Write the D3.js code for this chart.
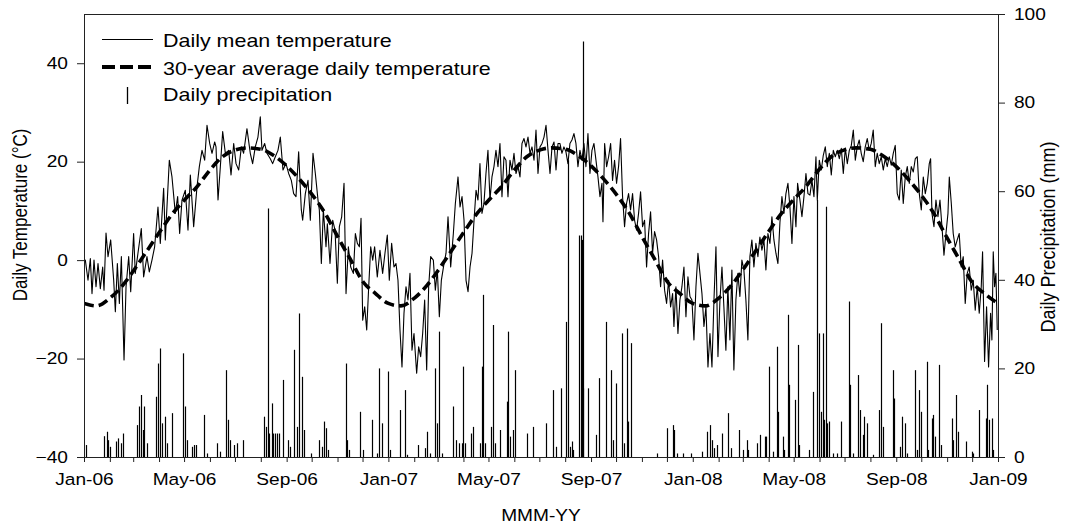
<!DOCTYPE html>
<html><head><meta charset="utf-8">
<script src="https://cdn.jsdelivr.net/npm/d3@7"></script>
<style>
body{margin:0;background:#fff;}
svg text{font-family:"Liberation Sans",Arial,sans-serif;fill:#000;}
</style>
</head><body>
<svg id="c" width="1068" height="529"></svg>
<script>
// ---------- DATA ----------
// day offsets are counted from 2006-01-01
const tempDay = [0,1.6,4.8,7.6,9.6,12,14.4,16.8,19.6,22.4,24,26.4,28.8,32,35.6,37.6,40,42.4,44.8,48,50.4,53.6,56,59.5,61.5,64.7,68.7,71.5,75.5,78.3,81.5,84.7,88.7,91.5,95.5,97.5,102.3,105.5,109.5,112.3,114.7,117.5,121.5,124.7,127.5,131.5,135.5,138.3,141.5,144.7,147.5,150.7,153.5,156.7,158.3,160.7,163.5,166.3,169.5,173.5,176.3,179.5,182.3,185.5,188.7,191.4,195.4,199.4,202.2,205.4,208.6,211.4,213.4,216.6,219.4,223.4,226.2,229.4,232.6,235.4,238.6,242.2,245.4,248.6,251.4,254.2,257.4,260.6,262.2,265.4,268.6,271.4,274.6,277.4,280.6,282.2,284.6,
287,290.2,291.8,295,298.2,301,303.8,306.2,309,311.8,314.2,317,319.8,323,325.4,327.8,330.2,332.2,334.2,336.6,339,341.4,343.8,346.2,348.5,351.7,354.9,358.1,360.9,363.7,366.1,368.9,371.7,374.1,376.5,378.9,381.3,383.7,386.1,388.5,390.9,393.3,395.7,398.9,401.3,403.7,406.1,408.5,410.9,413.3,415.7,418.9,421.3,423.7,426.1,428.5,431.7,434.1,436.5,439.7,442.9,445.3,448.5,450.9,453.3,455.7,458.1,460.5,462.9,465.3,467.7,470.1,472.4,474.8,477.2,479.6,482,484.4,486.8,489.2,491.6,494,496.4,498.8,501.2,503.6,506,508.4,510.8,513.2,515.6,518,520.4,522.8,525.2,527.6,530,532.4,534.8,537.2,539.6,542,544.4,546.8,549.2,551.6,554,556.4,558.8,561.2,563.6,566,568.4,
570.7,573.1,575.5,577.9,580.3,582.7,585.1,587.5,589.9,592.3,594.7,597.1,599.5,601.9,604.3,606.7,609.1,611.5,613.9,616.3,618.7,621.1,622.3,624.3,626.7,629.1,631.5,633.8,636.2,638.6,641,643.4,645.8,648.2,650.6,653,655.4,657.8,660.2,662.6,665,667.4,669.8,672.2,674.6,677,679.4,681.8,684.2,686.6,689,691.4,693.8,696.2,698.6,701,703.4,705.8,707.4,709.8,712.2,714.6,717,719.4,721.8,724.2,726.6,729,731.4,733.8,736.2,738.6,741,743.4,745.8,748.2,750.6,753,755.4,757.8,760.2,762.6,765,767.3,769.7,772.1,774.5,776.9,779.3,781.7,784.1,786.5,788.9,791.3,793.7,796.1,798.5,800.9,803.3,805.7,808.1,810.5,812.9,815.3,817.7,820.1,822.5,824.9,827.3,829.7,832.1,834.5,836.9,839.3,841.7,844.1,846.5,848.9,851.3,
853.7,855.7,858.5,860.9,863.3,865.7,868.1,870.5,872.9,875.3,877.7,879.3,881.7,884.1,886.5,888.9,891.3,893.7,896.1,898.5,900.9,903.3,905.7,908.1,910.5,912.9,915.3,917.7,920.1,922.5,924.9,927.2,929.6,932,934.4,936.8,939.2,941.6,944,946.4,948.8,951.2,953.6,956,958.4,960.8,963.2,965.6,968,970.4,972.8,975.2,977.6,980,982.4,984.8,987.2,989.6,992,994.4,996.8,999.2,1001.6,1004,1006.4,1008.8,1011.2,1013.6,1015.2,1016.8,1019.2,1021.6,1024,1026.4,1028.8,1031.2,1033.6,1036,1037.6,1040,1042.3,1044.7,1047.1,1049.5,1051.9,1054.3,1056.7,1059.1,1061.5,1063.9,1066.3,1068.7,1071.1,1073.5,1075.9,1077.5,1079.9,1082.3,1084.7,1087.1,1088.7,1090.3,1091.9,1093.5,1095.1];
const tempVal = [0,0,-4.1,0.3,-6.8,0,-5.4,-0.7,-5.8,-1.4,-6.1,5.5,0.7,4.1,-4.1,-10.5,-0.7,-8.8,0.7,-20.3,-5.4,0.7,-6.4,5.4,-2.7,1.4,6.4,-3.4,0.7,-2.4,0,2.7,10.8,3.4,14.6,4.1,20.3,16.9,9.5,12.9,5.4,12.2,14.2,6.1,17.3,6.8,14.9,19,22.3,20.3,27.4,23.7,21.7,24,23,12.2,19,26.1,21.7,22.3,17.3,23.7,19.6,18.3,23,21.7,26.7,21.7,19.6,23,25,29.1,22.3,23.7,21.7,20.6,19.6,21,22.3,25,18.3,19.6,17.6,16.2,13.5,12.9,22,10.2,8.1,13.5,16.2,8.1,21.7,17.6,12.2,10.2,-0.7,
10.2,2.7,7.4,-0.7,8.1,6.1,-4.7,6.8,8.8,15.6,-6.8,2.7,-1.4,-2.7,5.4,3.4,2.7,8.5,-12.2,-9.5,-14.2,-5.4,2.7,0,2.7,-3.4,2,-2.7,1.4,5.1,-4.1,3.4,-1.4,-0.7,-4.1,-14.2,-21.7,-10.8,-5.4,-8.1,-2.7,-18.3,-14.9,-23,-17.6,-19.6,-14.9,-8.1,-22.3,-5.4,0.7,0,-6.1,-2,-11.5,-4.1,-0.7,1.4,8.8,-1.4,5.4,11.5,16.9,10.8,12.9,8.1,-4.1,-6.4,-1.4,1.4,8.1,14.2,12.2,19.6,9.5,11.5,17.6,22.3,12.2,16.9,19,22.3,19,23.7,12.9,21,20.3,12.9,20.3,18.3,21.7,17.6,19,16.9,23.7,24.7,23,25,21.7,23,20.3,26.4,17.6,23,23.7,25,27.4,22.3,17.6,23,24,18.3,23.7,
23.7,21.7,23,22,19.6,23.7,24.4,25.7,23.7,19,22.3,20.3,23.7,19,25.7,17.6,22.3,23.7,20.3,16.9,12.9,15.6,7.8,23.7,19,21,23.7,16.2,20.3,15.6,19,24.7,12.9,6.8,11.5,13.5,10.2,13.5,8.1,6.1,9.5,13.9,6.8,8.1,-1.4,5.4,9.8,1.4,5.8,4.1,0.7,-5.4,0,-6.1,-8.8,-4.1,-9.5,-6.8,-13.5,-5.4,-14.9,-8.1,-5.4,-1.4,-11.5,-3.4,-7.4,-8.1,-16.2,-5.4,1.4,-2.7,-6.8,-13.5,-9.5,-21.7,-14.9,-21.7,-8.1,2.7,-19.6,-8.1,-1.4,-9.5,-18.3,-5.4,-16.2,-2,-22.3,-8.1,-2.7,-7.4,0,-2,-8.1,-16.2,0.7,4.1,-1.4,3.4,0.7,4.7,2,4.1,-2,5.4,3.4,8.8,4.1,1.4,-0.7,7.6,12.9,9.5,13.5,15.6,10.8,3.4,12.9,
6.8,15.6,12.2,8.8,12.9,17.6,13.5,13.2,16.2,12.9,21,12.2,20.3,18.3,21.3,23,19,21.7,17.3,22.3,21,22.3,20.6,22.7,17.6,22.7,19.6,22.3,23.3,26.4,20.3,23,24.4,21.7,20,23,24.7,22.3,23.7,26.4,19,21.7,19.6,21,18.3,20.6,19,21,19.3,21.7,23.3,13.5,12.2,18.3,11.5,16.9,19,15.6,19,17.9,20.6,21,13.5,10.2,16.9,13.5,15.6,19.6,20.6,9.5,6.8,12.2,8.8,12.2,6.8,1,5.4,9.5,16.9,11.5,5.4,2.7,4.1,5.4,-1.4,0.7,-8.8,-2.7,-1.4,-6.1,-4.1,-10.2,-5.4,-10.8,-5.4,1.7,-20.6,-9.5,-21.7,-10.8,-16.2,1.7,-5.4,-2.7,-14.2];

// 30-year average daily temperature, by day of year (same climatology each year)
const normDoy = [0,15,32,46,60,74,91,105,121,135,152,166,182,196,213,227,244,258,274,288,305,319,335,349];
const normVal = [-8.8,-9.3,-7.6,-5.2,-2.0,1.5,5.8,9.2,12.3,14.8,18.5,21.0,22.4,22.8,22.5,21.3,19.0,16.5,13.2,9.8,4.5,0.3,-4.5,-6.7];
const normYears = [2006,2007,2008];

// daily precipitation (mm)
const precipDay = [2.4,24,27.2,29.2,31.2,38.4,41.2,44,47.2,63.1,66.3,67.9,70.3,71.9,75.1,86.3,88.7,91.5,93.9,97.1,99.9,105.1,118.3,121.1,123.1,129.1,131.9,134.3,143.9,147.1,159.1,163.1,170.3,172.3,175.1,179.9,183.1,191.1,
215.9,218.3,220.3,222.3,225.1,227.1,229.5,231.9,234.3,239.1,245.1,247.1,252.3,255.1,258.2,261.4,263.8,271.8,282.2,285,288.2,290.2,293,314.2,315.8,318.2,331,334.2,345,351,354.2,357,365,367,
378.9,384.9,387.7,400.9,408.9,411.7,414.9,420.9,422.9,425.7,428.9,442.8,446,450,452.8,454.8,456.8,464,466.8,474.8,476.8,478.8,480.8,487.6,490.8,492.8,498.8,506.8,508.8,510.8,514.8,516.8,530.8,538,554,562.8,566,571.5,
577.9,580.7,582.7,584.7,586.7,593.9,595.5,597.1,597.9,598.7,604.7,613.9,617.9,625.5,631.5,633.9,637.8,644.6,647.4,650.6,652.6,655.4,686.6,699.4,705.8,707.8,710.6,718.6,727.4,740.6,746.6,750.6,752.6,755.4,758.6,
764.6,772.6,775.4,785.4,789.8,794.6,796.6,806.6,810.6,816.2,817.8,821,826.5,830.5,832.5,837.7,839.3,844.5,845.7,852.5,856.5,857.7,869.7,873.7,879.3,880.9,883.3,885.7,887.3,889.7,891.3,893.7,897.7,902.5,907.3,917.7,918.5,922.5,928.5,930.5,933.7,935.3,938.5,945.7,953.6,955.6,958.4,
969.6,971.2,978.4,981.2,984.4,986.4,996.4,999.2,1001.6,1003.2,1010.4,1012.4,1016.4,1018.4,1020.4,1025.5,1027.1,1040.3,1041.5,1045.5,1048.3,1057.5,1064.3,1065.5,1073.1,1081.5,1083.1,1085.5,1088.3,1090.3];
const precipVal = [2.7,4.7,5.7,3.8,2.3,3.5,4.2,3.1,5.3,7.2,11.4,14,6.1,11.4,3.1,13.6,21.1,24.5,7.6,9.1,3.1,9.9,23.4,11.4,3.8,2.3,2.7,2.7,9.5,0.8,3.1,1.2,19.6,8.4,3.8,2.7,3.1,3.8,
9.1,6.8,56.1,5.3,12.1,5.3,5.3,5.3,5.3,17.4,3.8,2.3,24.2,6.8,32.4,18.1,6.1,0.8,3.8,2.3,8,6.5,1.6,21.1,3.8,1.6,10.2,1.6,8.4,0.8,20,7.6,19.3,1.6,
10.6,15.1,0.5,2.7,2,5.7,0.8,20,7.6,28.3,0.8,11.4,3.8,3.1,3.1,20.4,3.1,5.3,6.8,3.1,20.4,36.6,3.1,6.8,29.8,3.1,6.1,12.5,28.3,4.6,6.1,19.6,5.3,6.8,7.6,15.1,2.3,15.5,
30.5,67,2.3,3.5,1.6,50,50,49,93.8,15.5,15.5,5,17.8,30.5,19.6,3.8,16.6,27.9,3.1,29,8,25.7,0.8,6.5,7.2,6.1,0.8,0.8,0.8,1.2,5.7,7.2,3.8,2,2.7,
5.3,9.9,2,6.1,1.6,3.8,1.6,3.1,5,4.6,4.6,20.4,1.2,24.9,10.2,4.6,1.6,32.1,16.3,12.9,25.3,2.7,1.6,14.7,58,27.9,10.2,27.9,8.4,56.5,7.6,8,0.8,0.8,8,35.1,16.3,0.8,18.5,10.6,5,9.1,7.6,0.5,10.6,30.2,6.8,
19.6,13.2,2.3,9.1,7.6,0.8,19.6,1.6,15.1,10.2,21.5,1.6,8.7,9.5,4.6,20.8,2.7,8.7,3.8,14,5.7,3.5,1.2,0.8,10.6,8.7,16.3,8.4,8.7,1.6];

// ticks and labels
const tempTicks = [-40,-20,0,20,40];
const precipTicks = [0,20,40,60,80,100];
const xTickLabels = ["Jan-06","May-06","Sep-06","Jan-07","May-07","Sep-07","Jan-08","May-08","Sep-08","Jan-09"];
const legendLabels = ["Daily mean temperature","30-year average daily temperature","Daily precipitation"];
const xTitle = "MMM-YY";
const yLeftTitle = "Daily Temperature (\u00B0C)";
const yRightTitle = "Daily Precipitation (mm)";

// ---------- CHART ----------
const svg = d3.select("#c");
const L = 84, R = 998, T = 14, B = 457;
const K = 1.16; // horizontal stretch of the reference's text
const t0 = Date.UTC(2006,0,1);
const dayToDate = d => new Date(t0 + d*864e5);

const x = d3.scaleUtc().domain([new Date(Date.UTC(2006,0,1)), new Date(Date.UTC(2009,0,1))]).range([L,R]);
const yT = d3.scaleLinear().domain([-40,50]).range([B,T]);
const yP = d3.scaleLinear().domain([0,100]).range([B,T]);

function stretch(sel,k){
  sel.each(function(){
    const t=d3.select(this);
    const ax=+t.attr("x")||0;
    const prev=t.attr("transform")||"";
    t.attr("transform",`${prev} translate(${ax},0) scale(${k},1) translate(${-ax},0)`);
  });
}

svg.append("defs").append("clipPath").attr("id","clip")
  .append("rect").attr("x",L).attr("y",T).attr("width",R-L).attr("height",B-T);

const plot = svg.append("g").attr("clip-path","url(#clip)");

// precipitation bars
plot.append("g").selectAll("line").data(precipDay.map((d,i)=>[d,precipVal[i]])).join("line")
  .attr("x1",d=>Math.round(x(dayToDate(d[0])))+0.5)
  .attr("x2",d=>Math.round(x(dayToDate(d[0])))+0.5)
  .attr("y1",yP(0)).attr("y2",d=>yP(d[1]))
  .attr("stroke","#000").attr("stroke-width",1.2);

// daily mean temperature
const tempData = tempDay.map((d,i)=>[dayToDate(d),tempVal[i]]);
plot.append("path").datum(tempData)
  .attr("fill","none").attr("stroke","#000").attr("stroke-width",1.1).attr("stroke-linejoin","round")
  .attr("d",d3.line().x(d=>x(d[0])).y(d=>yT(d[1])));

// 30-year average
const normData = [];
normYears.forEach(yr=>{
  const y0 = Date.UTC(yr,0,1);
  normDoy.forEach((d,i)=>normData.push([new Date(y0+d*864e5),normVal[i]]));
});
normData.push([new Date(Date.UTC(2009,0,1)),normVal[0]]);
plot.append("path").datum(normData)
  .attr("fill","none").attr("stroke","#000").attr("stroke-width",3.6)
  .attr("stroke-dasharray","10,5")
  .attr("d",d3.line().curve(d3.curveMonotoneX).x(d=>x(d[0])).y(d=>yT(d[1])));

// frame top line
svg.append("line").attr("x1",L).attr("x2",R).attr("y1",T+0.5).attr("y2",T+0.5)
  .attr("stroke","#222").attr("stroke-width",1);

// axes
const fmt = d3.utcFormat("%b-%y");
const gx = svg.append("g").attr("transform",`translate(0,${B})`)
  .call(d3.axisBottom(x).ticks(d3.utcMonth.every(1)).tickSize(5).tickSizeOuter(0).tickPadding(11)
    .tickFormat(d=>xTickLabels.includes(fmt(d))?fmt(d):""));
const gl = svg.append("g").attr("transform",`translate(${L},0)`)
  .call(d3.axisLeft(yT).tickValues(tempTicks).tickSize(7).tickSizeOuter(0).tickPadding(9));
const gr = svg.append("g").attr("transform",`translate(${R},0)`)
  .call(d3.axisRight(yP).tickValues(precipTicks).tickSize(7).tickSizeOuter(0).tickPadding(9));

[gx,gl,gr].forEach(g=>{
  g.selectAll("path.domain").attr("stroke","#222");
  g.selectAll(".tick line").attr("stroke","#222");
  g.selectAll("text").attr("font-family",'"Liberation Sans",Arial,sans-serif').attr("font-size",16.5).attr("fill","#000");
  stretch(g.selectAll("text"),K);
});

// axis titles
const xt = svg.append("text").attr("x",541).attr("y",521).attr("text-anchor","middle")
  .attr("font-size",16.5).text(xTitle);
stretch(xt,K);
svg.append("text").attr("transform",`translate(27,215) scale(${K},1) rotate(-90)`)
  .attr("text-anchor","middle").attr("font-size",17).text(yLeftTitle);
svg.append("text").attr("transform",`translate(1055,237) scale(${K},1) rotate(-90)`)
  .attr("text-anchor","middle").attr("font-size",18).text(yRightTitle);

// legend
const lg = svg.append("g");
lg.append("line").attr("x1",102).attr("x2",153).attr("y1",39.5).attr("y2",39.5)
  .attr("stroke","#000").attr("stroke-width",1.1);
lg.append("line").attr("x1",102).attr("x2",153).attr("y1",67).attr("y2",67)
  .attr("stroke","#000").attr("stroke-width",4).attr("stroke-dasharray","13,5");
lg.append("line").attr("x1",127.5).attr("x2",127.5).attr("y1",87).attr("y2",104)
  .attr("stroke","#000").attr("stroke-width",1.3);
const ly = [40.5,68,94];
const lt = lg.selectAll("text.lg").data(legendLabels).join("text").attr("class","lg")
  .attr("x",163).attr("y",(d,i)=>ly[i]).attr("dy","0.36em").attr("font-size",18.5).text(d=>d);
stretch(lt,K);
</script>
</body></html>
